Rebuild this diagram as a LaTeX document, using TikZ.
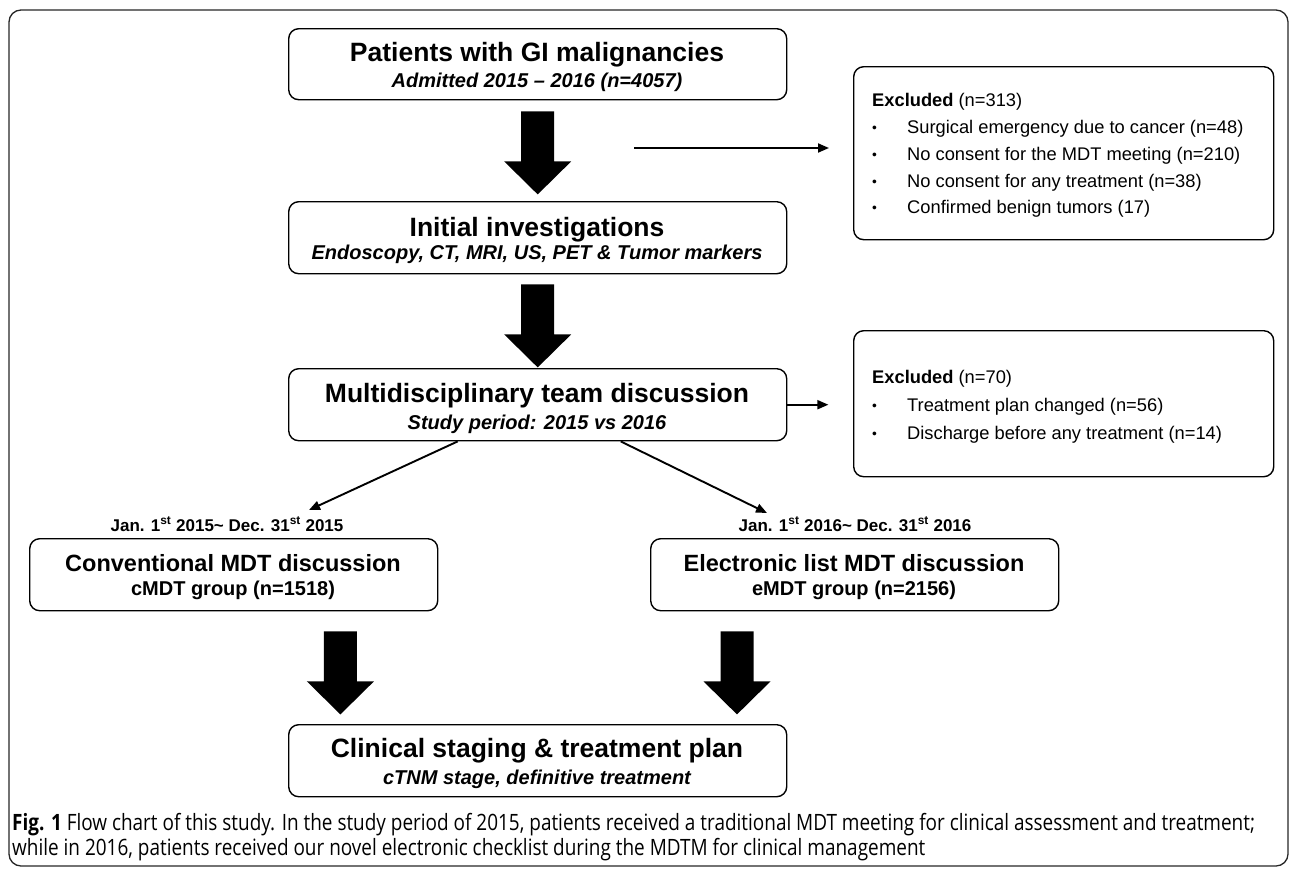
\documentclass[tikz,border=0pt]{standalone}
\usepackage{fontspec}
\setmainfont{Liberation Sans}
\newfontfamily\capfont[FakeStretch=0.842]{Open Sans}
\usetikzlibrary{arrows.meta,calc}
\newcommand{\bul}{\makebox[35pt][l]{\raisebox{1pt}{\scalebox{0.75}{\textbullet}}}}
\tikzset{
  box/.style={draw=black, line width=1.4pt, rounded corners=10pt, inner sep=0pt, anchor=north west},
  ttl/.style={anchor=base, inner sep=0pt, font=\bfseries\fontsize{26.5}{30}\selectfont},
  ttls/.style={anchor=base, inner sep=0pt, font=\bfseries\fontsize{23.5}{28}\selectfont},
  sub/.style={anchor=base, inner sep=0pt, font=\bfseries\itshape\fontsize{20}{24}\selectfont},
  subu/.style={anchor=base, inner sep=0pt, font=\bfseries\fontsize{20}{24}\selectfont},
  datel/.style={anchor=base, inner sep=0pt, font=\bfseries\fontsize{17}{20}\selectfont},
  extext/.style={anchor=base west, inner sep=0pt, font=\fontsize{18.3}{22}\selectfont},
  thin/.style={line width=1.9pt, -{Triangle[length=11pt,width=9pt]}},
  capt/.style={anchor=base west, inner sep=0pt, font=\capfont\fontsize{22.5}{25}\selectfont},
  blockarr/.pic={\fill[black] (-16.5,0) -- (16.5,0) -- (16.5,50) -- (33.5,50) -- (0,83) -- (-33.5,50) -- (-16.5,50) -- cycle;}
}
\begin{document}
\begin{tikzpicture}[x=1pt,y=-1pt]
\useasboundingbox (0,0) rectangle (1290,868);
% outer frame
\draw[black!85, line width=1.3pt, rounded corners=12pt] (9,10) rectangle (1288,866);

% main boxes
\node[box, minimum width=498pt, minimum height=71pt] (b1) at (288,28) {};
\node[ttl] (b1t) at (537,61.5) {Patients with GI malignancies};
\node[sub] (b1s) at (537,87) {Admitted 2015 -- 2016 (n=4057)};

\node[box, minimum width=498pt, minimum height=72pt] (b2) at (288,201) {};
\node[ttl] (b2t) at (537,236.5) {Initial investigations};
\node[sub] (b2s) at (537,259) {Endoscopy, CT, MRI, US, PET \& Tumor markers};

\node[box, minimum width=498pt, minimum height=72pt] (b3) at (288,368) {};
\node[ttl] (b3t) at (537,402.5) {Multidisciplinary team discussion};
\node[sub] (b3s) at (537,429) {Study period: 2015 vs 2016};

\node[box, minimum width=408pt, minimum height=72pt] (cm) at (29,538) {};
\node[ttls] (cmt) at (233,571.5) {Conventional MDT discussion};
\node[subu] (cms) at (233,595) {cMDT group (n=1518)};

\node[box, minimum width=408pt, minimum height=72pt] (em) at (650,538) {};
\node[ttls] (emt) at (854,571.5) {Electronic list MDT discussion};
\node[subu] (ems) at (854,595) {eMDT group (n=2156)};

\node[box, minimum width=498pt, minimum height=72pt] (cl) at (288,724) {};
\node[ttl] (clt) at (537,757.5) {Clinical staging \& treatment plan};
\node[sub] (cls) at (537,784) {cTNM stage, definitive treatment};

% date labels
\node[datel] (d1) at (227,531) {Jan. 1\textsuperscript{st} 2015\textasciitilde{} Dec. 31\textsuperscript{st} 2015};
\node[datel] (d2) at (855,531) {Jan. 1\textsuperscript{st} 2016\textasciitilde{} Dec. 31\textsuperscript{st} 2016};

% excluded boxes
\node[box, minimum width=420pt, minimum height=173pt] (x1) at (853,66) {};
\node[extext] (x1a) at (872,106.5) {\textbf{Excluded} (n=313)};
\node[extext] (x1b) at (872,133.5) {\bul Surgical emergency due to cancer (n=48)};
\node[extext] (x1c) at (872,160.2) {\bul No consent for the MDT meeting (n=210)};
\node[extext] (x1d) at (872,187) {\bul No consent for any treatment (n=38)};
\node[extext] (x1e) at (872,213.7) {\bul Confirmed benign tumors (17)};

\node[box, minimum width=420pt, minimum height=146pt] (x2) at (853,330) {};
\node[extext] (x2a) at (872,383.5) {\textbf{Excluded} (n=70)};
\node[extext] (x2b) at (872,411.5) {\bul Treatment plan changed (n=56)};
\node[extext] (x2c) at (872,439.5) {\bul Discharge before any treatment (n=14)};

% block arrows
\pic at ($(b1.south)+(0,11)$) {blockarr};
\pic at ($(b2.south)+(0,10)$) {blockarr};
\pic at ($(cm.south east)+(-98,20)$) {blockarr};
\pic at ($(em.south west)+(87,20)$) {blockarr};

% thin arrows
\coordinate (h1s) at (634,148);
\coordinate (h1e) at (829,148);
\draw[thin] (h1s) -- (h1e);
\draw[thin] (b3.east) -- ($(b3.east)+(41,0)$);
\coordinate (d1e) at (309,510);
\coordinate (d2e) at (767,513);
\draw[thin] ($(b3.south)+(-80,0)$) -- (d1e);
\draw[thin] ($(b3.south)+(83,0)$) -- (d2e);

% caption
\node[capt] (c1) at (12,830) {\textbf{Fig. 1} Flow chart of this study. In the study period of 2015, patients received a traditional MDT meeting for clinical assessment and treatment;};
\node[capt] (c2) at (12,855) {while in 2016, patients received our novel electronic checklist during the MDTM for clinical management};
\end{tikzpicture}
\end{document}
